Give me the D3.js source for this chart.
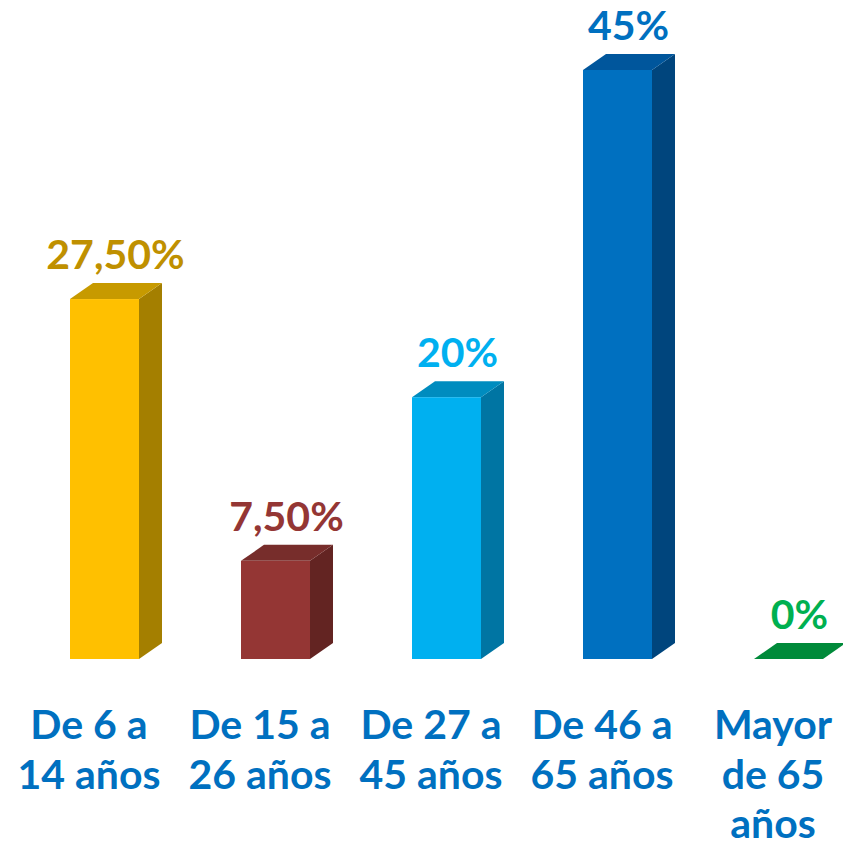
<!DOCTYPE html>
<html>
<head>
<meta charset="utf-8">
<script src="https://cdn.jsdelivr.net/npm/d3@7"></script>
<style>
  body { margin: 0; background: #fff; }
  text { font-family: Lato, "Open Sans", sans-serif; font-weight: bold; }
</style>
</head>
<body>
<script>
// data
const categories = ["De 6 a 14 años", "De 15 a 26 años", "De 27 a 45 años", "De 46 a 65 años", "Mayor de 65 años"];
const catLines = [["De 6 a", "14 años"], ["De 15 a", "26 años"], ["De 27 a", "45 años"], ["De 46 a", "65 años"], ["Mayor", "de 65", "años"]];
const values = [27.5, 7.5, 20, 45, 0];
const valueLabels = ["27,50%", "7,50%", "20%", "45%", "0%"];

// colours per bar: front, top, side, label
const front = ["#FFC000", "#943634", "#00B0F0", "#0070C0", "#00B050"];
const topC = ["#C79A00", "#772D2B", "#008CBF", "#00569C", "#008A3A"];
const side = ["#A47F00", "#632422", "#0075A3", "#00457D", "#00733A"];
const labelC = ["#BF9000", "#943634", "#00B0F0", "#0070C0", "#00B050"];

const W = 843, H = 841;
const dx = 23, dy = 16, bw = 69;

const svg = d3.select("body").append("svg")
    .attr("width", W)
    .attr("height", H);

const x = d3.scaleBand().domain(categories).range([3, 858]).padding(0);
const y = d3.scaleLinear().domain([0, 45]).range([659, 70]);

const data = categories.map((c, i) => ({c, v: values[i], lab: valueLabels[i], i}));

const g = svg.selectAll("g.bar").data(data).enter().append("g").attr("class", "bar");

const fx = d => x(d.c) + 67;

// side face
g.append("polygon")
    .attr("points", d => {
        const x1 = fx(d) + bw, yt = y(d.v), yb = y(0);
        return [[x1, yt], [x1 + dx, yt - dy], [x1 + dx, yb - dy], [x1, yb]].join(" ");
    })
    .attr("fill", d => side[d.i]);

// top face
g.append("polygon")
    .attr("points", d => {
        const x0 = fx(d), yt = y(d.v);
        return [[x0, yt], [x0 + dx, yt - dy], [x0 + bw + dx, yt - dy], [x0 + bw, yt]].join(" ");
    })
    .attr("fill", d => topC[d.i]);

// front face
g.append("rect")
    .attr("x", d => fx(d))
    .attr("y", d => y(d.v))
    .attr("width", bw)
    .attr("height", d => y(0) - y(d.v))
    .attr("fill", d => front[d.i]);

// value labels
g.append("text")
    .attr("x", d => fx(d) + bw / 2 + 11)
    .attr("y", d => y(d.v) - 30)
    .attr("text-anchor", "middle")
    .attr("font-size", 41)
    .attr("fill", d => labelC[d.i])
    .text(d => d.lab);

// category labels
const cl = svg.selectAll("text.cat").data(data).enter().append("text")
    .attr("class", "cat")
    .attr("text-anchor", "middle")
    .attr("font-size", 41)
    .attr("fill", "#0070C0");

cl.selectAll("tspan").data(d => catLines[d.i].map(t => ({t, c: d.c})))
    .enter().append("tspan")
    .attr("x", d => x(d.c) + 86)
    .attr("y", (d, j) => 739 + j * 49.5)
    .text(d => d.t);
</script>
</body>
</html>
